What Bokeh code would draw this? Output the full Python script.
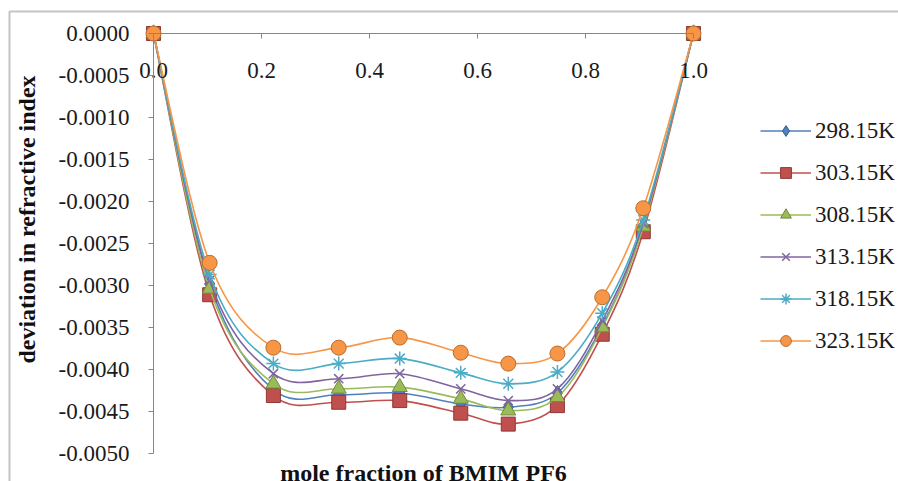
import numpy as np
from bokeh.plotting import figure
from bokeh.models import (Range1d, Legend, LegendItem, FixedTicker, PrintfTickFormatter,
                          ColumnDataSource, Label, BoxAnnotation)
from bokeh.embed import file_html
from bokeh.resources import INLINE

# ---------------- data ----------------
mole_fraction = [0.0, 0.104, 0.222, 0.343, 0.456, 0.569, 0.657, 0.748, 0.831, 0.907, 1.0]
t298 = [0.0, -0.00298, -0.00424, -0.00430, -0.00428, -0.00441, -0.00445, -0.00428, -0.00348, -0.00229, 0.0]
t303 = [0.0, -0.00311, -0.00431, -0.00439, -0.00437, -0.00452, -0.00465, -0.00443, -0.00358, -0.00236, 0.0]
t308 = [0.0, -0.00304, -0.00417, -0.00423, -0.00421, -0.00435, -0.00449, -0.00433, -0.00350, -0.00230, 0.0]
t313 = [0.0, -0.00294, -0.00405, -0.00411, -0.00405, -0.00423, -0.00437, -0.00423, -0.00342, -0.00226, 0.0]
t318 = [0.0, -0.00287, -0.00393, -0.00393, -0.00387, -0.00404, -0.00417, -0.00403, -0.00333, -0.00222, 0.0]
t323 = [0.0, -0.00273, -0.00374, -0.00374, -0.00362, -0.00380, -0.00393, -0.00381, -0.00314, -0.00208, 0.0]
series_names = ["298.15K", "303.15K", "308.15K", "313.15K", "318.15K", "323.15K"]
x_ticks = [0.0, 0.2, 0.4, 0.6, 0.8, 1.0]
y_ticks = [0.0, -0.0005, -0.0010, -0.0015, -0.0020, -0.0025, -0.0030, -0.0035, -0.0040, -0.0045, -0.0050]
x_title = "mole fraction of BMIM PF6"
y_title = "deviation in refractive index"

series = [t298, t303, t308, t313, t318, t323]
colors = ["#4F81BD", "#C0504D", "#9BBB59", "#8064A2", "#4BACC6", "#F79646"]
edges = ["#385D8A", "#8C3836", "#71893F", "#8064A2", "#4BACC6", "#B66D31"]
markers = ["diamond", "square", "triangle", "x", "asterisk", "circle"]
msizes = [15, 14, 15, 13, 14, 15]

FONT = "'Liberation Serif'"
W, H = 898, 481
X0_PX, Y0_PX = 153.0, 33.0   # pixel position of the data origin (0, 0)
PX_X = 540.0                 # pixels per unit of mole fraction
PX_Y = 84000.0               # pixels per unit of deviation

p = figure(width=W, height=H, output_backend="svg", toolbar_location=None,
           x_range=Range1d(-X0_PX / PX_X, (W - X0_PX) / PX_X),
           y_range=Range1d(-(H - Y0_PX) / PX_Y, Y0_PX / PX_Y),
           min_border=0)
p.outline_line_color = None
p.xgrid.visible = False
p.ygrid.visible = False
p.background_fill_color = "white"
p.border_fill_color = "white"

# chart-area border (top and left edges visible in the reference)
p.add_layout(BoxAnnotation(left=(9 - X0_PX) / PX_X, top=(Y0_PX - 11) / PX_Y,
                           right=(W + 20 - X0_PX) / PX_X, bottom=-(H + 20 - Y0_PX) / PX_Y,
                           fill_alpha=0, line_color="#3c3c3c", line_width=2))

# axes
xa = p.xaxis[0]
xa.fixed_location = 0
xa.bounds = (0, 1)
xa.ticker = FixedTicker(ticks=x_ticks)
xa.formatter = PrintfTickFormatter(format="%.1f")
ya = p.yaxis[0]
ya.fixed_location = 0
ya.bounds = (-0.005, 0)
ya.ticker = FixedTicker(ticks=y_ticks)
ya.formatter = PrintfTickFormatter(format="%.4f")
for ax in (xa, ya):
    ax.axis_line_color = "#868686"
    ax.major_tick_line_color = "#868686"
    ax.major_tick_out = 5
    ax.major_tick_in = 0
    ax.minor_tick_line_color = None
    ax.major_label_text_font = FONT
    ax.major_label_text_font_size = "23px"
    ax.major_label_text_color = "#1a1a1a"
xa.major_label_standoff = 24
ya.major_label_standoff = 19

# smoothed (Excel-like) curves via bezier segments computed from the data
xs = np.array(mole_fraction)
items = []
for vals, name, col, edge, mk, ms in zip(series, series_names, colors, edges, markers, msizes):
    ys = np.array(vals)
    n = len(xs)
    xp = np.concatenate([[xs[0]], xs, [xs[-1]]])
    yp = np.concatenate([[ys[0]], ys, [ys[-1]]])
    i = np.arange(n - 1)
    x0, y0 = xs[:-1], ys[:-1]
    x1, y1 = xs[1:], ys[1:]
    cx0 = x0 + (xp[i + 2] - xp[i]) / 6.0
    cy0 = y0 + (yp[i + 2] - yp[i]) / 6.0
    cx1 = x1 - (xp[i + 3] - xp[i + 1]) / 6.0
    cy1 = y1 - (yp[i + 3] - yp[i + 1]) / 6.0
    p.bezier(x0=x0, y0=y0, x1=x1, y1=y1, cx0=cx0, cy0=cy0, cx1=cx1, cy1=cy1,
             line_color=col, line_width=1.6)
    src = ColumnDataSource(dict(x=xs, y=ys))
    leg_line = p.line("x", "y", source=src, line_color=col, line_width=1.6)
    leg_line.visible = False
    if mk in ("x", "asterisk"):
        sc = p.scatter("x", "y", source=src, marker=mk, size=ms, line_color=col, line_width=1.5)
    else:
        sc = p.scatter("x", "y", source=src, marker=mk, size=ms, fill_color=col,
                       line_color=edge, line_width=1)
    items.append(LegendItem(label=name, renderers=[leg_line, sc]))

legend = Legend(items=items, location=(760, 127), orientation="vertical",
                glyph_width=51, glyph_height=27, label_height=27, spacing=15,
                label_standoff=4, padding=0, margin=0,
                label_text_font=FONT, label_text_font_size="23px", label_text_color="#1a1a1a",
                border_line_color=None, background_fill_alpha=0)
p.add_layout(legend, "center")

# axis titles
p.add_layout(Label(x=0.5, y=-0.005 - 19 / PX_Y, text=x_title, text_align="center",
                   text_baseline="middle", text_font=FONT, text_font_size="24px",
                   text_font_style="bold", text_color="#111111"))
p.add_layout(Label(x=-127 / PX_X, y=-186 / PX_Y, text=y_title, angle=np.pi / 2,
                   text_align="center", text_baseline="middle", text_font=FONT,
                   text_font_size="24px", text_font_style="bold", text_color="#111111"))

open("out.html", "w").write(file_html(p, INLINE))
